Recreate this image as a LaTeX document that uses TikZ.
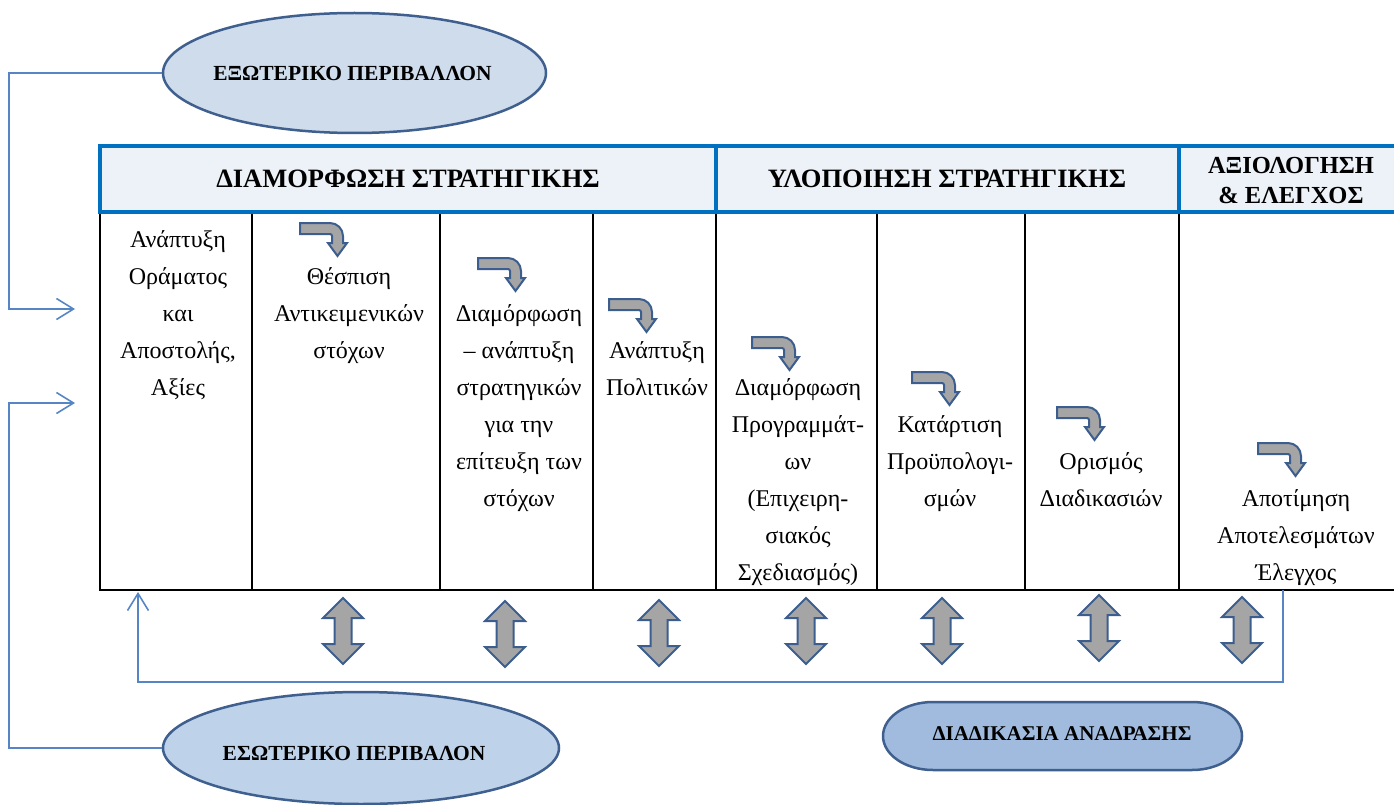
\documentclass[tikz,border=0pt]{standalone}
\usepackage{fontspec}
\setmainfont{Liberation Serif}
\usetikzlibrary{arrows.meta,shapes.geometric,calc}
\definecolor{hdrfill}{HTML}{EDF2F8}
\definecolor{hdrline}{HTML}{0070C0}
\definecolor{extfill}{HTML}{CEDCEC}
\definecolor{intfill}{HTML}{BED2EA}
\definecolor{fbfill}{HTML}{A0BBDD}
\definecolor{shapeline}{HTML}{3F5F8F}
\definecolor{connline}{HTML}{5585C5}
\definecolor{arrfill}{HTML}{A5A5A5}
\definecolor{arrline}{HTML}{3C5E8E}
\begin{document}
\begin{tikzpicture}[x=1pt,y=-1pt,
  hdrtext/.style={font=\fontsize{26.5}{30}\selectfont\bfseries, inner sep=0, anchor=base},
  celltext/.style={font=\fontsize{24}{37}\selectfont, align=center, anchor=north, inner sep=0},
  ovaltext/.style={font=\fontsize{21.5}{25}\selectfont\bfseries, inner sep=0, anchor=base},
  conn/.style={draw=connline, line width=1.6pt},
  barb/.style={-{Straight Barb[length=17pt,width=21pt]}},
  tableline/.style={line width=2pt, draw=black},
  blockarrow/.style={fill=arrfill, draw=arrline, line width=2pt, line join=miter},
  oval/.style={ellipse, draw=shapeline, line width=2.5pt, inner sep=0},
  bent/.pic={\path[blockarrow] (0,0) -- (30,0) arc[start angle=90,end angle=0,radius=13pt] -- (43,20) -- (47,20) -- (37.5,33) -- (28,20) -- (32,20) -- (32,13) arc[start angle=0,end angle=90,radius=2pt] -- (0,11) -- cycle;},
  updown/.pic={\path[blockarrow] (0,0) -- (20,20) -- (8.5,20) -- (8.5,46) -- (20,46) -- (0,66) -- (-20,46) -- (-8.5,46) -- (-8.5,20) -- (-20,20) -- cycle;}
]
\useasboundingbox (0,0) rectangle (1394,805);

% header band
\fill[hdrfill] (100,146) rectangle (1394,212);
\draw[hdrline, line width=4pt] (1394,146) -- (100,146) -- (100,212) -- (1394,212);
\draw[hdrline, line width=4pt] (716,146) -- (716,212) (1178.5,146) -- (1178.5,212);

% table body
\draw[tableline] (100,214) -- (100,590) -- (1394,590);
\foreach \x in {252,440,593,716,877,1025,1178.5} \draw[tableline] (\x,214) -- (\x,590);

% header texts
\node[hdrtext] (hform) at (408,188) {ΔΙΑΜΟΡΦΩΣΗ ΣΤΡΑΤΗΓΙΚΗΣ};
\node[hdrtext] (himpl) at (947,188) {ΥΛΟΠΟΙΗΣΗ ΣΤΡΑΤΗΓΙΚΗΣ};
\node[hdrtext, font=\fontsize{24.5}{30}\selectfont\bfseries, align=center, anchor=north] (heval) at (1291,152) {\strut ΑΞΙΟΛΟΓΗΣΗ\\\& ΕΛΕΓΧΟΣ};

% cell texts
\node[celltext] (c1) at (178,221.1) {\strut Ανάπτυξη\\Οράματος\\και\\Αποστολής,\\Αξίες};
\node[celltext] (c2) at (349,258.1) {\strut Θέσπιση\\Αντικειμενικών\\στόχων};
\node[celltext] (c3) at (519,295.1) {\strut Διαμόρφωση\\– ανάπτυξη\\στρατηγικών\\για την\\επίτευξη των\\στόχων};
\node[celltext] (c4) at (657,332.1) {\strut Ανάπτυξη\\Πολιτικών};
\node[celltext] (c5) at (798,369.1) {\strut Διαμόρφωση\\Προγραμμάτ-\\ων\\(Επιχειρη-\\σιακός\\Σχεδιασμός)};
\node[celltext] (c6) at (950,406.1) {\strut Κατάρτιση\\Προϋπολογι-\\σμών};
\node[celltext] (c7) at (1101,443.1) {\strut Ορισμός\\Διαδικασιών};
\node[celltext] (c8) at (1296,480.1) {\strut Αποτίμηση\\Αποτελεσμάτων\\Έλεγχος};

% bent arrows
\pic at (300,223) {bent};
\pic at (478,258) {bent};
\pic at (609,299) {bent};
\pic at (752,337) {bent};
\pic at (912,372) {bent};
\pic at (1057,407) {bent};
\pic at (1258,443) {bent};

% double arrows
\pic at (343,598) {updown};
\pic at (505,601) {updown};
\pic at (659,600) {updown};
\pic at (806,598) {updown};
\pic at (942,598) {updown};
\pic at (1099,595) {updown};
\pic at (1242,597) {updown};

% ovals
\node[oval, fill=extfill, minimum width=383pt, minimum height=120pt] (ext) at (354.5,73) {};
\node[ovaltext] (extlabel) at (352.5,81) {ΕΞΩΤΕΡΙΚΟ ΠΕΡΙΒΑΛΛΟΝ};
\node[oval, fill=intfill, minimum width=396pt, minimum height=112pt] (int) at (361,748) {};
\node[ovaltext] (intlabel) at (354,760) {ΕΣΩΤΕΡΙΚΟ ΠΕΡΙΒΑΛΟΝ};
\path[fill=fbfill, draw=shapeline, line width=2.5pt] (933,702) -- (1192,702) arc[start angle=90,end angle=-90,x radius=50pt,y radius=34pt] -- (933,770) arc[start angle=270,end angle=90,x radius=50pt,y radius=34pt] -- cycle;
\node[ovaltext, font=\fontsize{21}{25}\selectfont\bfseries] (fb) at (1062,740) {ΔΙΑΔΙΚΑΣΙΑ ΑΝΑΔΡΑΣΗΣ};

% connectors
\coordinate (inTop) at (75,309);
\coordinate (inBot) at (75,403);
\coordinate (evalOut) at (1283,590);
\coordinate (formIn) at (138,592);
\draw[conn,barb] (ext.west) -- ++(-153,0) |- (inTop);
\draw[conn,barb] (int.west) -- ++(-153,0) |- (inBot);
\draw[conn,barb] (evalOut) -- ++(0,92) -| (formIn);
\end{tikzpicture}
\end{document}
